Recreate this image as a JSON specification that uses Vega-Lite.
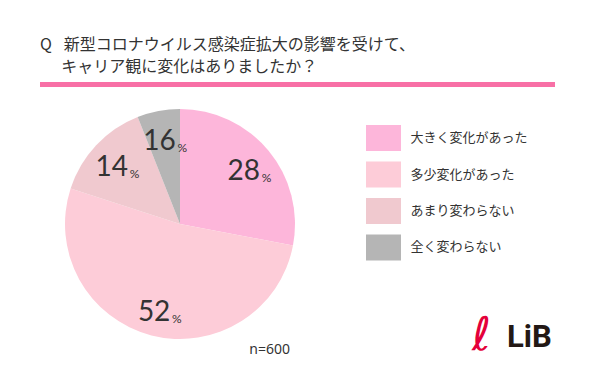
{
  "$schema": "https://vega.github.io/schema/vega-lite/v6.json",
  "background": "white",
  "padding": {"left": 40, "top": 37, "right": 5, "bottom": 5},
  "title": {
    "text": ["Q\u2002\u2005新型コロナウイルス感染症拡大の影響を受けて、", "\u200B\u3000\u2004キャリア観に変化はありましたか？"],
    "anchor": "start",
    "fontSize": 16,
    "lineHeight": 22,
    "font": "Noto Sans CJK JP",
    "fontWeight": "normal",
    "color": "#333333",
    "offset": 7
  },
  "datasets": {
    "answers": [
      {"idx": 1, "answer": "大きく変化があった", "value": 28, "label": "28"},
      {"idx": 2, "answer": "多少変化があった", "value": 52, "label": "52"},
      {"idx": 3, "answer": "あまり変わらない", "value": 14, "label": "14"},
      {"idx": 4, "answer": "全く変わらない", "value": 6, "label": "16"}
    ],
    "band": [{"start": 0, "end": 1}]
  },
  "spacing": 22,
  "vconcat": [
    {
      "width": 515,
      "height": 5,
      "data": {"name": "band"},
      "mark": {"type": "rect", "color": "#F870A6"},
      "encoding": {
        "x": {"field": "start", "type": "quantitative", "scale": {"domain": [0, 1], "nice": false, "zero": false}, "axis": null},
        "x2": {"field": "end"}
      }
    },
    {
      "spacing": 46,
      "hconcat": [
        {
          "width": 280,
          "height": 230,
          "data": {"name": "answers"},
          "title": {"text": "n=600", "orient": "bottom", "anchor": "end", "frame": "group", "dx": -30, "offset": 4, "fontSize": 14, "fontWeight": "normal", "font": "Noto Sans", "color": "#333333"},
          "encoding": {
            "theta": {"field": "value", "type": "quantitative", "stack": true},
            "order": {"field": "idx", "type": "quantitative", "sort": "ascending"}
          },
          "layer": [
            {
              "mark": {"type": "arc", "strokeWidth": 0},
              "encoding": {
                "color": {
                  "field": "answer", "type": "nominal",
                  "scale": {"domain": ["大きく変化があった", "多少変化があった", "あまり変わらない", "全く変わらない"], "range": ["#FDB6DA", "#FDCCD8", "#F0C9CF", "#B5B5B5"]},
                  "legend": null
                }
              }
            },
            {
              "mark": {"type": "text", "radius": 88, "dx": -4, "dy": 4, "fontSize": 28, "font": "Lato", "color": "#333333", "baseline": "middle", "align": "center"},
              "encoding": {"text": {"field": "label", "type": "nominal"}}
            },
            {
              "mark": {"type": "text", "radius": 88, "dx": 14, "dy": 14, "fontSize": 12, "font": "Lato", "color": "#333333", "baseline": "alphabetic", "align": "left"},
              "encoding": {"text": {"value": "%"}}
            }
          ]
        },
        {
          "width": 35,
          "height": 160,
          "data": {"name": "answers"},
          "title": {"text": "LiB", "orient": "bottom", "anchor": "start", "frame": "group", "dx": 141, "offset": -35, "fontSize": 31, "fontWeight": "bold", "font": "Roboto", "color": "#231815"},
          "mark": {"type": "bar"},
          "encoding": {
            "y": {
              "field": "answer", "type": "nominal", "sort": {"field": "idx", "order": "ascending"},
              "scale": {"paddingInner": 0.288, "paddingOuter": 0.336, "align": 0.653},
              "axis": {
                "orient": "right", "domain": false, "ticks": false, "grid": false,
                "labelPadding": 9, "labelFontSize": 13, "labelColor": "#333333", "labelFont": "Noto Sans CJK JP",
                "title": "ℓ", "titleAngle": 0, "titleX": 80, "titleY": 240, "titleAlign": "center", "titleBaseline": "alphabetic",
                "titleFontSize": 46, "titleFont": "DejaVu Sans", "titleFontStyle": "italic", "titleFontWeight": "normal", "titleColor": "#E4003A"
              }
            },
            "color": {"field": "answer", "type": "nominal", "legend": null}
          }
        }
      ]
    }
  ],
  "config": {"view": {"stroke": null}}
}
